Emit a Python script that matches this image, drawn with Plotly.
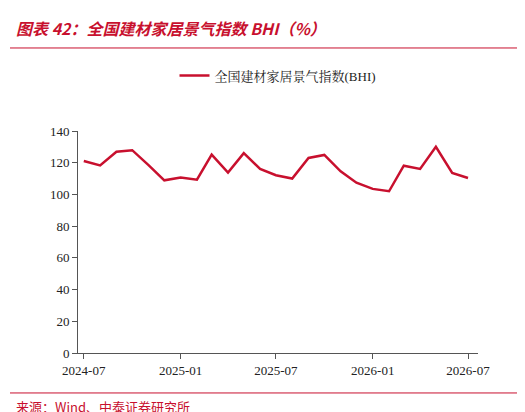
import plotly.graph_objects as go
import pandas as pd

months = pd.date_range("2024-07-01", periods=25, freq="MS")
bhi = [121.1, 118.3, 126.9, 127.9, 118.5, 108.9, 110.6, 109.3, 125.1, 113.8, 126.0, 116.1, 112.1,
       110.0, 123.0, 124.9, 114.6, 107.4, 103.5, 102.0, 118.1, 116.1, 130.0, 113.6, 110.4]
tickvals = ["2024-07-01", "2025-01-01", "2025-07-01", "2026-01-01", "2026-07-01"]
ticktext = ["2024-07", "2025-01", "2025-07", "2026-01", "2026-07"]

fig = go.Figure()
fig.add_trace(go.Scatter(x=months, y=bhi, mode="lines", name="全国建材家居景气指数(BHI)",
                         line=dict(color="#C8102E", width=2.5)))
serif = "Liberation Serif, Noto Serif CJK SC, serif"
fig.update_layout(
    width=525, height=412, margin=dict(l=70, r=55, t=123, b=67, autoexpand=False),
    plot_bgcolor="white", paper_bgcolor="white",
    font=dict(family=serif, size=13, color="#222"),
    showlegend=True,
    legend=dict(orientation="h", x=0.5, xanchor="center", y=1.25, yanchor="middle",
                font=dict(size=13, family=serif)),
    xaxis=dict(range=["2024-06-20", "2026-07-20"], tickvals=tickvals, ticktext=ticktext,
               showgrid=False, showline=True, linecolor="#555", ticks="outside",
               ticklen=5, tickcolor="#555", zeroline=False),
    yaxis=dict(range=[0, 140], dtick=20, showgrid=False, showline=True, linecolor="#555",
               ticks="outside", ticklen=5, tickcolor="#555", zeroline=False),
)
fig.add_annotation(text="<b><i>图表 42：全国建材家居景气指数 BHI（%）</i></b>", xref="paper", yref="paper",
                   x=-0.16, y=1.464, yanchor="middle", xanchor="left", showarrow=False,
                   font=dict(size=16, color="#C8102E", family="Noto Sans CJK SC"))
fig.add_shape(type="line", xref="paper", yref="paper", x0=-0.17, x1=1.13, y0=1.374, y1=1.374,
              line=dict(color="#C8102E", width=1))
fig.add_annotation(text="来源：Wind、中泰证券研究所", xref="paper", yref="paper", x=-0.16, y=-0.243,
                   xanchor="left", yanchor="middle", showarrow=False,
                   font=dict(size=13, color="#C8102E", family="Noto Sans CJK SC"))
fig.add_shape(type="line", xref="paper", yref="paper", x0=-0.17, x1=1.13, y0=-0.18, y1=-0.18,
              line=dict(color="#C8102E", width=1))
fig.write_html("out.html")
